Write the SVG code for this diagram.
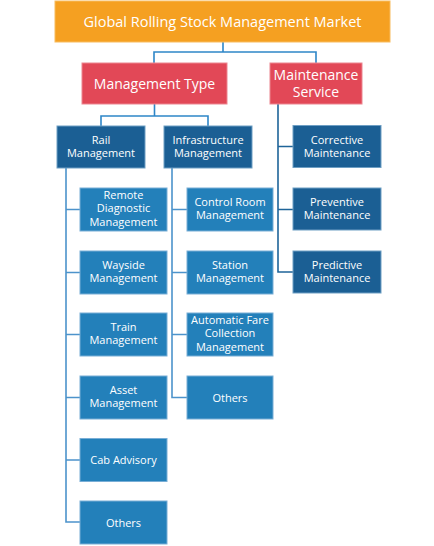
<svg xmlns="http://www.w3.org/2000/svg" width="434" height="546" viewBox="0 0 434 546">
<style>
text{font-family:"Open Sans","Liberation Sans",sans-serif;fill:#fff;text-anchor:middle}
.t0{font-size:14.5px}
.t1{font-size:14px}
.t2{font-size:11px}
.orange{fill:#F5A021;stroke:#F8BC5E;stroke-width:1}
.red{fill:#E24857;stroke:#EC8590;stroke-width:1}
.dark{fill:#1B5F94;stroke:#6E9FC4;stroke-width:1}
.light{fill:#2380BA;stroke:#79AED6;stroke-width:1}
.ln{fill:none;stroke:#2E86C8;stroke-width:1.6}
.lnd{fill:none;stroke:#1F6499;stroke-width:1.6}
.lnl{fill:none;stroke:#4C93CB;stroke-width:1.6}
</style>
<rect width="434" height="546" fill="#fff"/>
<g id="connectors">
<path class="ln" d="M223 42V52M154 63V52H316V63"/>
<path class="ln" d="M154.5 104V116M101 126V116H208V126"/>
<path class="lnl" d="M66 168V522H80M66 209.5H80M66 272.5H80M66 334.5H80M66 397.5H80M66 460H80"/>
<path class="lnl" d="M172 168V397.5H187M172 209.5H187M172 272.5H187M172 334.5H187"/>
<path class="lnd" d="M278 104V272H293M278 146.5H293M278 209.5H293"/>
</g>
<g id="root"><rect class="orange" x="55" y="1" width="335" height="41"/><text class="t0" x="222.5" y="26.5">Global Rolling Stock Management Market</text></g>
<g id="management-type"><rect class="red" x="82" y="63" width="145" height="41"/><text class="t1" x="154.5" y="88.5">Management Type</text></g>
<g id="maintenance-service"><rect class="red" x="270" y="63" width="92" height="41"/><text class="t1" x="316" y="80">Maintenance</text><text class="t1" x="316" y="96.5">Service</text></g>
<g id="rail-management"><rect class="dark" x="57" y="126" width="88" height="42"/><text class="t2" x="101" y="144">Rail</text><text class="t2" x="101" y="157">Management</text></g>
<g id="infrastructure-management"><rect class="dark" x="164" y="126" width="88" height="42"/><text class="t2" x="208" y="144">Infrastructure</text><text class="t2" x="208" y="157">Management</text></g>
<g id="remote-diagnostic"><rect class="light" x="80" y="188" width="87" height="43"/><text class="t2" x="123.5" y="199">Remote</text><text class="t2" x="123.5" y="212.3">Diagnostic</text><text class="t2" x="123.5" y="225.6">Management</text></g>
<g id="wayside"><rect class="light" x="80" y="251" width="87" height="43"/><text class="t2" x="123.5" y="269">Wayside</text><text class="t2" x="123.5" y="282">Management</text></g>
<g id="train"><rect class="light" x="80" y="313" width="87" height="43"/><text class="t2" x="123.5" y="331">Train</text><text class="t2" x="123.5" y="344">Management</text></g>
<g id="asset"><rect class="light" x="80" y="376" width="87" height="43"/><text class="t2" x="123.5" y="394">Asset</text><text class="t2" x="123.5" y="407">Management</text></g>
<g id="cab-advisory"><rect class="light" x="80" y="438.5" width="87" height="43"/><text class="t2" x="123.5" y="464">Cab Advisory</text></g>
<g id="rail-others"><rect class="light" x="80" y="501" width="87" height="43"/><text class="t2" x="123.5" y="526.5">Others</text></g>
<g id="control-room"><rect class="light" x="187" y="188" width="86" height="43"/><text class="t2" x="230" y="206">Control Room</text><text class="t2" x="230" y="219">Management</text></g>
<g id="station"><rect class="light" x="187" y="251" width="86" height="43"/><text class="t2" x="230" y="269">Station</text><text class="t2" x="230" y="282">Management</text></g>
<g id="automatic-fare"><rect class="light" x="187" y="313" width="86" height="43"/><text class="t2" x="230" y="324">Automatic Fare</text><text class="t2" x="230" y="337.3">Collection</text><text class="t2" x="230" y="350.6">Management</text></g>
<g id="infra-others"><rect class="light" x="187" y="376" width="86" height="43"/><text class="t2" x="230" y="401.5">Others</text></g>
<g id="corrective"><rect class="dark" x="293" y="125.5" width="88" height="42"/><text class="t2" x="337" y="144">Corrective</text><text class="t2" x="337" y="157">Maintenance</text></g>
<g id="preventive"><rect class="dark" x="293" y="188" width="88" height="42"/><text class="t2" x="337" y="206">Preventive</text><text class="t2" x="337" y="219">Maintenance</text></g>
<g id="predictive"><rect class="dark" x="293" y="251" width="88" height="42"/><text class="t2" x="337" y="269">Predictive</text><text class="t2" x="337" y="282">Maintenance</text></g>
</svg>
